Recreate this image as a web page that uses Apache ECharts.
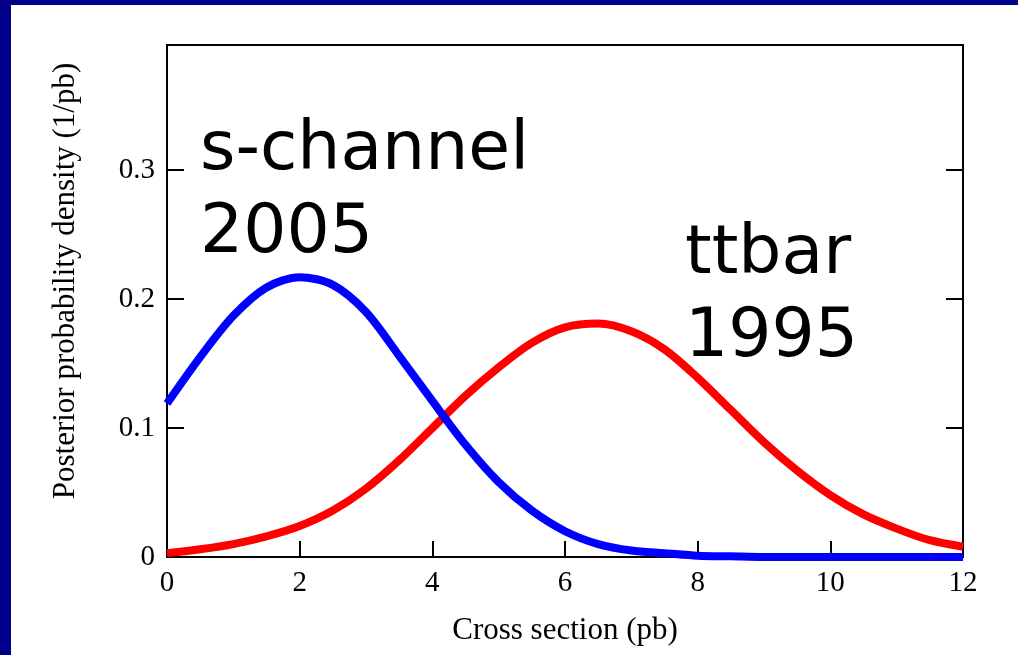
<!DOCTYPE html>
<html>
<head>
<meta charset="utf-8">
<script src="https://cdn.jsdelivr.net/npm/echarts@6/dist/echarts.min.js"></script>
<style>
  html, body { margin: 0; padding: 0; }
  #chart { width: 1018px; height: 655px; }
</style>
</head>
<body>
<div id="chart"></div>
<script>
// cross section grid (pb)
const crossSection = [0, 0.5, 1, 1.5, 2, 2.5, 3, 3.5, 4, 4.5, 5, 5.5, 6,
  6.5, 7, 7.5, 8, 8.5, 9, 9.5, 10, 10.5, 11, 11.5, 12];
// posterior densities
const ttbar1995 = [0.003, 0.006, 0.010, 0.016, 0.024, 0.036, 0.053, 0.075, 0.100, 0.125, 0.147, 0.166, 0.178,
  0.181, 0.175, 0.161, 0.139, 0.114, 0.089, 0.067, 0.048, 0.033, 0.022, 0.013, 0.008];
const schannel2005 = [0.119, 0.155, 0.187, 0.209, 0.217, 0.211, 0.190, 0.156, 0.121, 0.087, 0.058, 0.036, 0.020,
  0.010, 0.005, 0.003, 0.001, 0.0005, 0, 0, 0, 0, 0, 0, 0];
const yTicks = [0, 0.1, 0.2, 0.3];

const pairs = ys => crossSection.map((x, i) => [x, ys[i]]);
const serif = 'Liberation Serif';

const chart = echarts.init(document.getElementById('chart'));
chart.setOption({
  backgroundColor: '#000088',
  animation: false,
  graphic: [
    { type: 'rect', left: 11, top: 5, z: -10, shape: { width: 1007, height: 650 }, style: { fill: '#fff' } },
    { type: 'text', left: 200, top: 110, z: 10, style: { text: 's-channel\n2005', font: '68px "DejaVu Sans"', fill: '#000', lineHeight: 83 } },
    { type: 'text', left: 685, top: 214, z: 10, style: { text: 'ttbar\n1995', font: '68px "DejaVu Sans"', fill: '#000', lineHeight: 83 } }
  ],
  grid: {
    left: 167, right: 55, top: 45, bottom: 98,
    show: true, borderColor: '#000', borderWidth: 2, backgroundColor: 'transparent'
  },
  xAxis: [
    {
      type: 'value', min: 0, max: 12, interval: 2,
      name: 'Cross section (pb)', nameLocation: 'middle', nameGap: 58,
      nameTextStyle: { fontFamily: serif, fontSize: 31, color: '#000' },
      axisLine: { lineStyle: { color: '#000', width: 2 } },
      axisTick: { inside: true, length: 16, lineStyle: { color: '#000', width: 2 } },
      axisLabel: { fontFamily: serif, fontSize: 29, color: '#000', margin: 12 },
      splitLine: { show: false }
    }
  ],
  yAxis: [
    {
      type: 'value', min: 0, max: 0.397, interval: 0.1,
      name: 'Posterior probability density (1/pb)', nameLocation: 'middle', nameGap: 86,
      nameTextStyle: { fontFamily: serif, fontSize: 31, color: '#000', padding: [0, 0, 0, 40] },
      axisLine: { show: true, lineStyle: { color: '#000', width: 2 } },
      axisTick: { inside: true, length: 17, lineStyle: { color: '#000', width: 2 } },
      axisLabel: {
        fontFamily: serif, fontSize: 29, color: '#000', margin: 12,
        formatter: v => yTicks.some(t => Math.abs(t - v) < 1e-9) ? String(v) : ''
      },
      splitLine: { show: false }
    },
    {
      type: 'value', min: 0, max: 0.397, interval: 0.1, position: 'right',
      axisLine: { show: true, lineStyle: { color: '#000', width: 2 } },
      axisTick: { inside: true, length: 17, lineStyle: { color: '#000', width: 2 } },
      axisLabel: { show: false },
      splitLine: { show: false }
    }
  ],
  series: [
    {
      name: 'ttbar 1995', type: 'line', smooth: 0.3, showSymbol: false,
      data: pairs(ttbar1995),
      lineStyle: { color: '#ff0000', width: 8 }
    },
    {
      name: 's-channel 2005', type: 'line', smooth: 0.3, showSymbol: false,
      data: pairs(schannel2005),
      lineStyle: { color: '#0000ff', width: 8 }
    }
  ]
});
</script>
</body>
</html>
